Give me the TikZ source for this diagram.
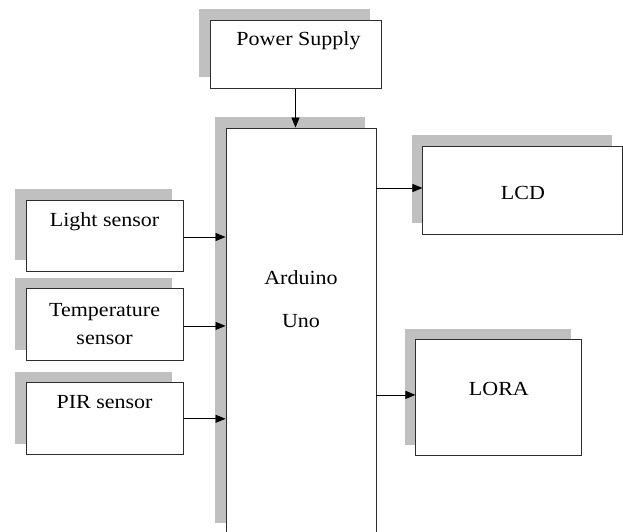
\documentclass[tikz,border=0pt]{standalone}
\usepackage{fontspec}
\setmainfont{Liberation Serif}[FakeStretch=1.1]
\usetikzlibrary{arrows.meta, positioning, shadows}
\definecolor{boxline}{RGB}{45, 45, 45}
\definecolor{shadowgray}{RGB}{192, 192, 192}
\tikzset{
  unit/.style={rectangle, draw=boxline, line width=0.9pt, fill=white,
    inner sep=0pt,
    drop shadow={shadow xshift=-11pt, shadow yshift=11pt,
      fill=shadowgray, opacity=1}},
  toptext/.style 2 args={label={[anchor=base, yshift=-#1, inner sep=0pt,
      align=center]north:#2}},
  arrow/.style={-{Triangle[length=10pt, width=8pt]}, line width=0.8pt, color=black},
}

\begin{document}
\begin{tikzpicture}[font=\fontsize{20}{28}\selectfont]
  \useasboundingbox (0,0) rectangle (623pt,-531pt);

  % ── Controller ──
  \node[unit, minimum width=150pt, minimum height=406pt,
    toptext={200pt}{Arduino\\[15pt]Uno}] (ard) at (301pt,-331pt) {};

  % ── Supply ──
  \node[unit, minimum width=171pt, minimum height=68pt,
    above=39pt of ard, xshift=-5.5pt,
    label={[anchor=base, yshift=-26pt, xshift=3pt, inner sep=0pt]north:Power Supply}] (power) {};

  % ── Sensors ──
  \node[unit, minimum width=157pt, minimum height=71pt,
    left=42pt of ard.north west, anchor=north east, yshift=-72pt,
    toptext={27pt}{Light sensor}] (light) {};
  \node[unit, minimum width=157pt, minimum height=72pt, below=17pt of light,
    toptext={56pt}{Temperature\\sensor}] (temp) {};
  \node[unit, minimum width=157pt, minimum height=72pt, below=21pt of temp,
    toptext={26pt}{PIR sensor}] (pir) {};

  % ── Outputs ──
  \node[unit, minimum width=200pt, minimum height=88pt,
    right=46pt of ard.north east, anchor=north west, yshift=-18pt,
    toptext={53.5pt}{LCD}] (lcd) {};
  \node[unit, minimum width=166pt, minimum height=116pt,
    below=105pt of lcd.south west, anchor=north west, xshift=-7pt,
    toptext={56pt}{LORA}] (lora) {};

  % ── Arrows ──
  \draw[arrow] (power) -- (power.south |- ard.north);
  \draw[arrow] ([yshift=-1.5pt]light.east) -- ([yshift=-1.5pt]light.east -| ard.west);
  \draw[arrow] ([yshift=-1pt]temp.east)    -- ([yshift=-1pt]temp.east -| ard.west);
  \draw[arrow] (pir.east)   -- (pir.east -| ard.west);
  \draw[arrow] ([yshift=2pt]lcd.west -| ard.east)  -- ([yshift=2pt]lcd.west);
  \draw[arrow] ([yshift=3pt]lora.west -| ard.east) -- ([yshift=3pt]lora.west);

\end{tikzpicture}
\end{document}
